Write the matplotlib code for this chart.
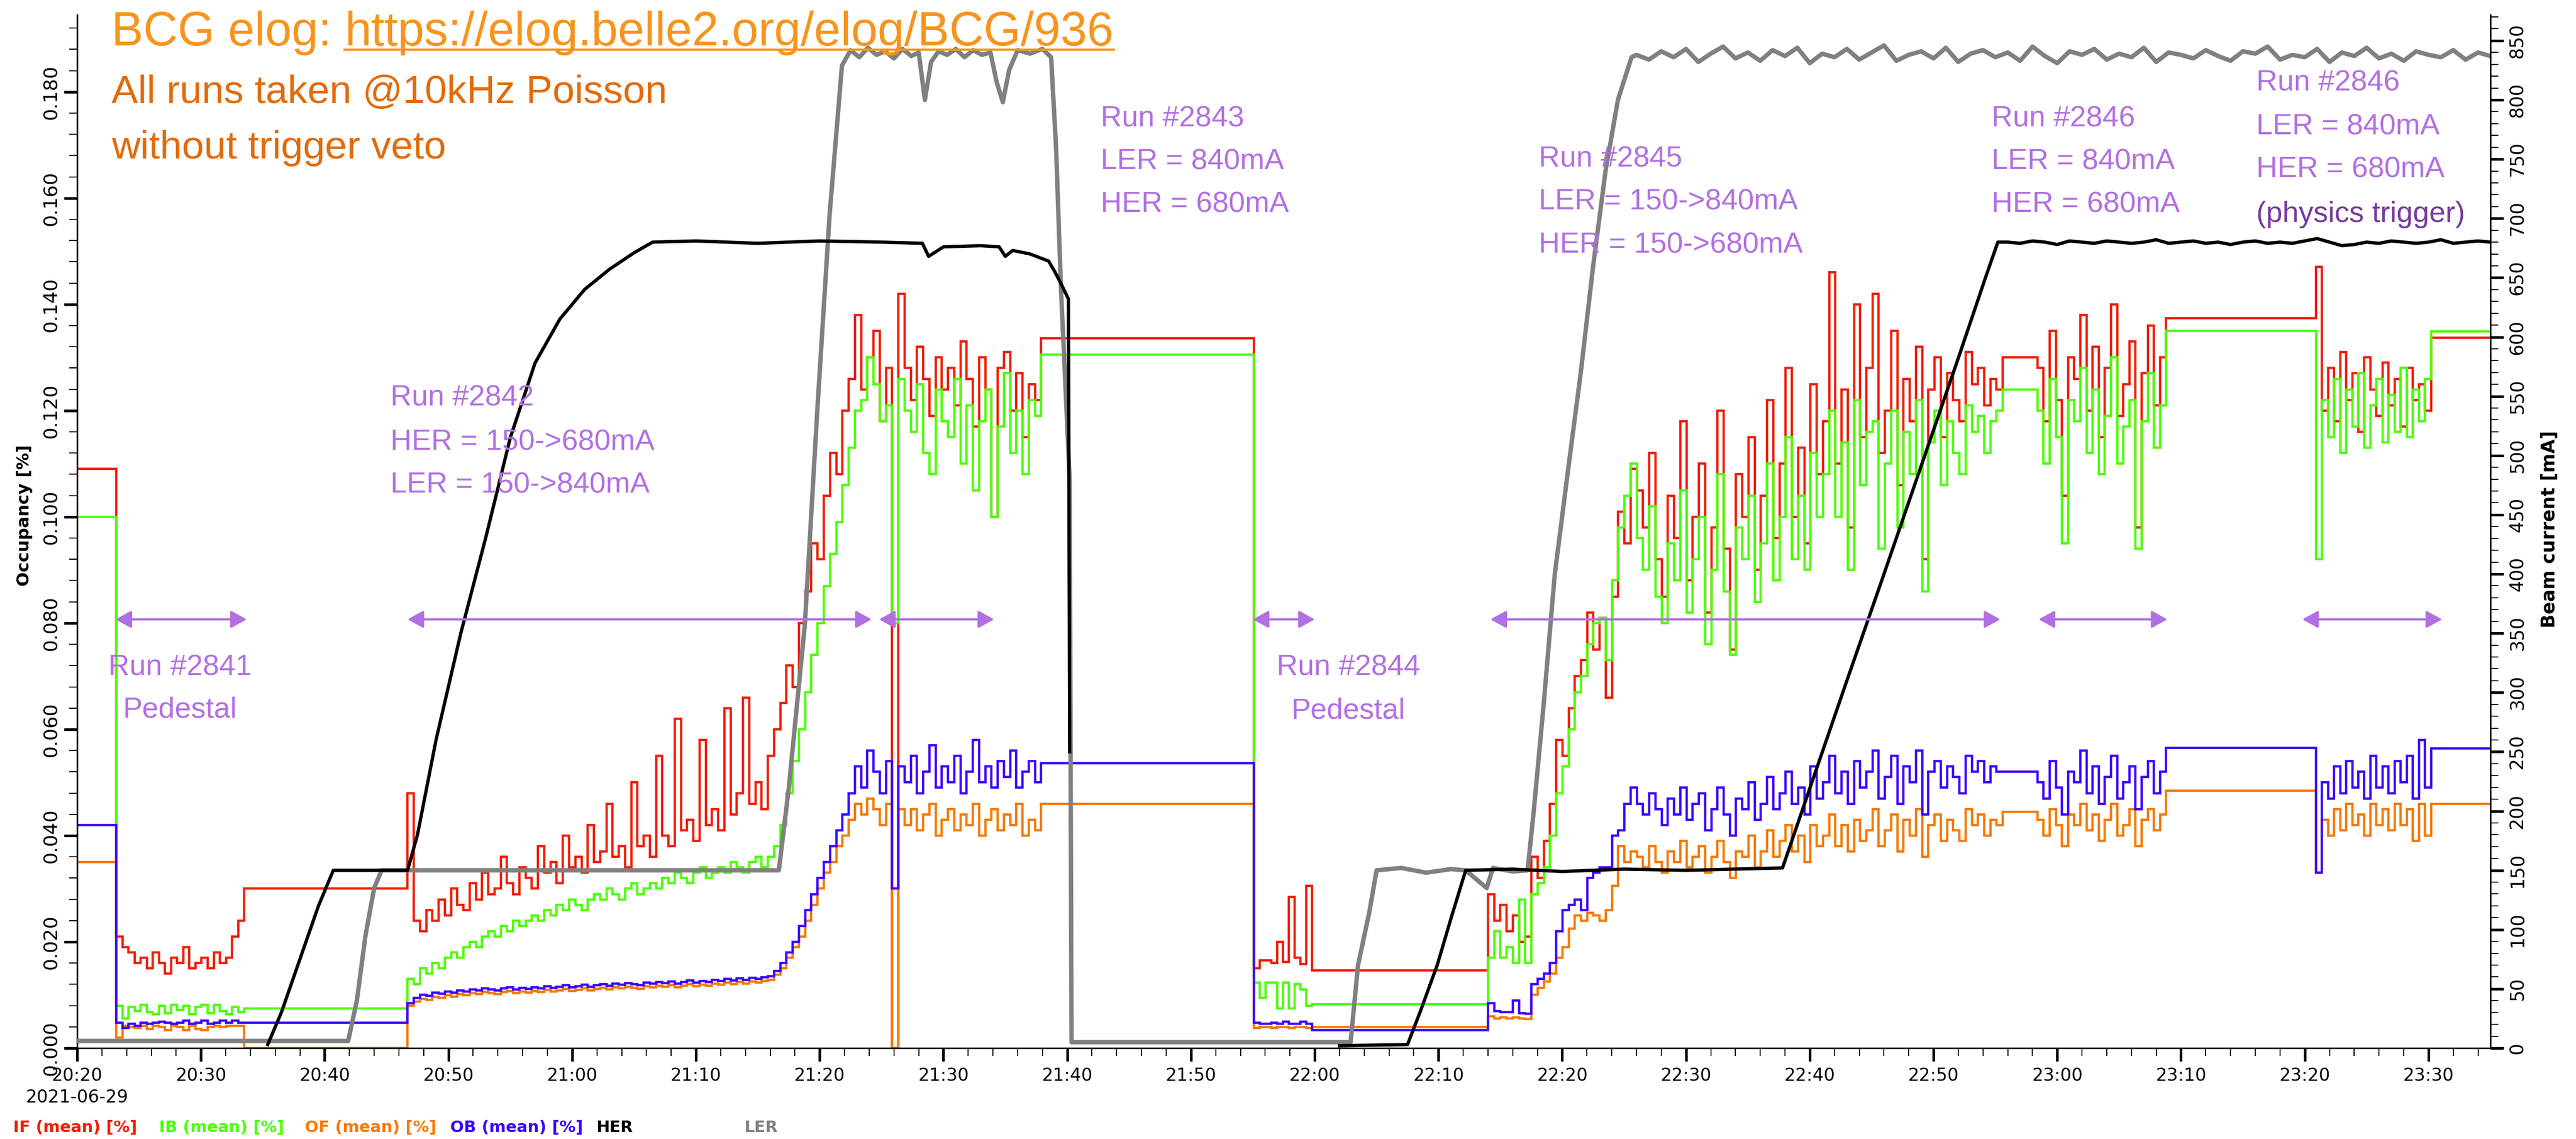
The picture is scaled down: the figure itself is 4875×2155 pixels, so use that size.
import numpy as np
import matplotlib
matplotlib.use("Agg")
import matplotlib.pyplot as plt
from matplotlib.lines import Line2D

# time axis: minutes after 2021-06-29 20:20
t_min, t_max = 0.0, 195.0
occ_max, cur_max = 0.1945, 871.8

# occupancy segments (start, end) in minutes; each run is split in equal bins
seg_bounds = [(0.0, 3.16), (3.16, 13.5), (13.5, 26.7), (26.7, 77.9), (77.9, 95.1),
              (95.1, 99.8), (99.8, 114.0), (114.0, 155.6), (155.6, 158.4),
              (158.4, 168.8), (168.8, 180.9), (180.9, 190.2), (190.2, 195.0)]

IF_vals = [
    [0.109],
    [0.021, 0.019, 0.018, 0.016, 0.017, 0.015, 0.018, 0.016, 0.014, 0.017, 0.016,
     0.019, 0.015, 0.016, 0.017, 0.015, 0.018, 0.016, 0.017, 0.021, 0.024],
    [0.030],
    [0.048, 0.024, 0.022, 0.026, 0.024, 0.028, 0.025, 0.030, 0.027, 0.026,
     0.031, 0.028, 0.033, 0.029, 0.030, 0.036, 0.031, 0.029, 0.034, 0.032,
     0.030, 0.038, 0.033, 0.035, 0.031, 0.040, 0.034, 0.036, 0.033, 0.042,
     0.035, 0.037, 0.046, 0.036, 0.038, 0.034, 0.050, 0.038, 0.040, 0.036,
     0.055, 0.040, 0.038, 0.062, 0.041, 0.043, 0.039, 0.058, 0.042, 0.045,
     0.041, 0.064, 0.044, 0.048, 0.066, 0.046, 0.050, 0.045, 0.055, 0.060,
     0.065, 0.072, 0.068, 0.080, 0.086, 0.095, 0.092, 0.104, 0.112, 0.108,
     0.120, 0.126, 0.138, 0.124, 0.130, 0.135, 0.118, 0.128, 0.000, 0.142,
     0.128, 0.122, 0.132, 0.126, 0.119, 0.130, 0.124, 0.128, 0.121, 0.133,
     0.126, 0.117, 0.130, 0.124, 0.100, 0.128, 0.131, 0.120, 0.127, 0.115, 0.125, 0.122],
    [0.1336],
    [0.0150, 0.0165, 0.0165, 0.0160, 0.0200, 0.0162, 0.0285, 0.0170, 0.0158, 0.0305],
    [0.0146],
    [0.029, 0.024, 0.027, 0.022, 0.025, 0.020, 0.021,
     0.036, 0.032, 0.039, 0.046, 0.058, 0.055, 0.064, 0.070, 0.073, 0.082, 0.075,
     0.081, 0.066, 0.085, 0.101, 0.095, 0.109,
     0.105, 0.098, 0.112, 0.092, 0.085, 0.104, 0.096, 0.118, 0.088, 0.100,
     0.110, 0.082, 0.098, 0.120, 0.094, 0.075, 0.108, 0.100, 0.115, 0.090,
     0.104, 0.122, 0.096, 0.110, 0.128, 0.100, 0.113, 0.095, 0.125, 0.108,
     0.118, 0.146, 0.110, 0.124, 0.098, 0.140, 0.115, 0.128, 0.142, 0.112,
     0.120, 0.135, 0.106, 0.126, 0.118, 0.132, 0.092, 0.124, 0.130, 0.115,
     0.127, 0.122, 0.118, 0.131, 0.125, 0.128, 0.121, 0.126, 0.124],
    [0.130],
    [0.128, 0.118, 0.135, 0.122, 0.104, 0.130, 0.126, 0.138, 0.120, 0.132, 0.115,
     0.128, 0.140, 0.119, 0.125, 0.133, 0.098, 0.127, 0.136, 0.121, 0.130],
    [0.1374],
    [0.147, 0.120, 0.128, 0.118, 0.131, 0.122, 0.127, 0.116, 0.130, 0.124,
     0.119, 0.129, 0.121, 0.126, 0.117, 0.128, 0.122, 0.125, 0.120],
    [0.1337],
]

IB_vals = [
    [0.100],
    [0.0080, 0.0056, 0.0078, 0.0070, 0.0082, 0.0068, 0.0064, 0.0080, 0.0066, 0.0082, 0.0072,
     0.0080, 0.0064, 0.0078, 0.0082, 0.0066, 0.0082, 0.0070, 0.0064, 0.0078, 0.0068],
    [0.0075],
    [0.013, 0.012, 0.015, 0.014, 0.016, 0.015, 0.017, 0.018, 0.017, 0.019,
     0.020, 0.019, 0.021, 0.022, 0.021, 0.023, 0.022, 0.024, 0.023, 0.024,
     0.025, 0.024, 0.026, 0.025, 0.027, 0.026, 0.028, 0.027, 0.026, 0.028,
     0.029, 0.028, 0.030, 0.029, 0.028, 0.030, 0.031, 0.029, 0.030, 0.031,
     0.030, 0.032, 0.031, 0.033, 0.032, 0.031, 0.033, 0.034, 0.032, 0.033,
     0.034, 0.033, 0.035, 0.034, 0.033, 0.035, 0.036, 0.034, 0.036, 0.038,
     0.042, 0.048, 0.054, 0.060, 0.067, 0.074, 0.080, 0.087, 0.093, 0.099,
     0.106, 0.113, 0.120, 0.122, 0.130, 0.125, 0.118, 0.121, 0.080, 0.126,
     0.120, 0.116, 0.125, 0.112, 0.108, 0.124, 0.118, 0.115, 0.126, 0.110,
     0.121, 0.105, 0.118, 0.124, 0.100, 0.117, 0.127, 0.112, 0.120, 0.108, 0.122, 0.119],
    [0.1305],
    [0.0123, 0.0095, 0.0123, 0.0123, 0.0075, 0.0123, 0.0075, 0.0120, 0.0110, 0.0080],
    [0.0083],
    [0.017, 0.022, 0.017, 0.019, 0.016, 0.028, 0.016,
     0.029, 0.031, 0.034, 0.040, 0.048, 0.053, 0.060, 0.067, 0.070, 0.076, 0.080,
     0.081, 0.073, 0.088, 0.098, 0.104, 0.110,
     0.096, 0.090, 0.102, 0.085, 0.080, 0.095, 0.088, 0.105, 0.082, 0.092,
     0.100, 0.076, 0.090, 0.108, 0.086, 0.074, 0.098, 0.092, 0.104, 0.084,
     0.095, 0.110, 0.088, 0.100, 0.115, 0.092, 0.104, 0.090, 0.112, 0.100,
     0.108, 0.120, 0.100, 0.114, 0.090, 0.122, 0.106, 0.116, 0.118, 0.094,
     0.110, 0.120, 0.098, 0.116, 0.108, 0.122, 0.086, 0.114, 0.120, 0.106,
     0.118, 0.112, 0.108, 0.121, 0.116, 0.119, 0.112, 0.118, 0.120],
    [0.124],
    [0.120, 0.110, 0.126, 0.115, 0.095, 0.122, 0.118, 0.128, 0.112, 0.124, 0.108,
     0.119, 0.130, 0.110, 0.117, 0.122, 0.094, 0.118, 0.127, 0.113, 0.121],
    [0.1350],
    [0.092, 0.122, 0.115, 0.126, 0.112, 0.124, 0.117, 0.127, 0.113, 0.121,
     0.126, 0.114, 0.123, 0.116, 0.128, 0.115, 0.124, 0.118, 0.126],
    [0.1349],
]

OF_vals = [
    [0.035],
    [0.0020, 0.0042, 0.0040, 0.0038, 0.0042, 0.0036, 0.0042, 0.0040, 0.0034, 0.0042, 0.0040,
     0.0034, 0.0042, 0.0036, 0.0034, 0.0040, 0.0042, 0.0040, 0.0042, 0.0042, 0.0042],
    [0.0],
    [0.0080, 0.0088, 0.0093, 0.0091, 0.0097, 0.0095, 0.0099, 0.0097, 0.0101, 0.0099,
     0.0103, 0.0101, 0.0105, 0.0103, 0.0101, 0.0105, 0.0107, 0.0103, 0.0106, 0.0104,
     0.0107, 0.0105, 0.0109, 0.0106, 0.0108, 0.0111, 0.0107, 0.0109, 0.0112, 0.0108,
     0.0111, 0.0113, 0.0110, 0.0114, 0.0112, 0.0115, 0.0113, 0.0111, 0.0116, 0.0114,
     0.0117, 0.0115, 0.0118, 0.0114, 0.0117, 0.0120, 0.0116, 0.0119, 0.0117, 0.0121,
     0.0119, 0.0123, 0.0120, 0.0124, 0.0121, 0.0125, 0.0123, 0.0126, 0.0128, 0.0138,
     0.015, 0.017, 0.019, 0.021, 0.024, 0.027, 0.030, 0.033, 0.035, 0.038,
     0.040, 0.043, 0.046, 0.044, 0.047, 0.045, 0.042, 0.046, 0.000, 0.045,
     0.042, 0.045, 0.041, 0.044, 0.046, 0.040, 0.043, 0.045, 0.041, 0.044,
     0.042, 0.046, 0.040, 0.043, 0.045, 0.041, 0.044, 0.042, 0.046, 0.040, 0.043, 0.041],
    [0.046],
    [0.0038, 0.0040, 0.0040, 0.0038, 0.0040, 0.0040, 0.0038, 0.0040, 0.0040, 0.0038],
    [0.0040],
    [0.0060, 0.0056, 0.0058, 0.0056, 0.0058, 0.0056, 0.0055,
     0.010, 0.0113, 0.0125, 0.014, 0.017, 0.019, 0.0225, 0.025, 0.024, 0.0255, 0.025,
     0.024, 0.026, 0.0305, 0.038, 0.035, 0.037,
     0.036, 0.034, 0.038, 0.035, 0.033, 0.037, 0.035, 0.039, 0.034, 0.036,
     0.038, 0.033, 0.036, 0.039, 0.035, 0.032, 0.037, 0.036, 0.040, 0.034,
     0.037, 0.041, 0.036, 0.039, 0.042, 0.037, 0.040, 0.035, 0.042, 0.038,
     0.040, 0.044, 0.038, 0.042, 0.037, 0.043, 0.039, 0.041, 0.045, 0.038,
     0.041, 0.044, 0.037, 0.043, 0.040, 0.045, 0.036, 0.042, 0.044, 0.039,
     0.043, 0.041, 0.039, 0.045, 0.042, 0.044, 0.040, 0.043, 0.042],
    [0.0445],
    [0.043, 0.040, 0.045, 0.042, 0.038, 0.044, 0.042, 0.046, 0.041, 0.044, 0.039,
     0.043, 0.046, 0.040, 0.042, 0.045, 0.038, 0.043, 0.045, 0.041, 0.044],
    [0.0485],
    [0.033, 0.043, 0.040, 0.045, 0.041, 0.046, 0.042, 0.044, 0.040, 0.046,
     0.042, 0.045, 0.041, 0.046, 0.042, 0.045, 0.039, 0.046, 0.040],
    [0.0460],
]

OB_vals = [
    [0.042],
    [0.0048, 0.0038, 0.0046, 0.0042, 0.0048, 0.0046, 0.0048, 0.0050, 0.0048, 0.0046, 0.0048,
     0.0052, 0.0046, 0.0048, 0.0052, 0.0046, 0.0048, 0.0052, 0.0048, 0.0052, 0.0048],
    [0.0048],
    [0.0085, 0.0095, 0.0100, 0.0098, 0.0104, 0.0102, 0.0106, 0.0104, 0.0108, 0.0106,
     0.0110, 0.0108, 0.0112, 0.0110, 0.0108, 0.0112, 0.0114, 0.0110, 0.0113, 0.0111,
     0.0114, 0.0112, 0.0116, 0.0113, 0.0115, 0.0118, 0.0114, 0.0116, 0.0119, 0.0115,
     0.0118, 0.0120, 0.0117, 0.0121, 0.0119, 0.0122, 0.0120, 0.0118, 0.0123, 0.0121,
     0.0124, 0.0122, 0.0125, 0.0121, 0.0124, 0.0127, 0.0123, 0.0126, 0.0124, 0.0128,
     0.0126, 0.0130, 0.0127, 0.0131, 0.0128, 0.0132, 0.0130, 0.0133, 0.0135, 0.0145,
     0.016, 0.018, 0.020, 0.023, 0.026, 0.029, 0.032, 0.035, 0.038, 0.041,
     0.044, 0.048, 0.053, 0.049, 0.056, 0.052, 0.048, 0.054, 0.030, 0.053,
     0.050, 0.055, 0.048, 0.052, 0.057, 0.049, 0.053, 0.050, 0.055, 0.048,
     0.052, 0.058, 0.050, 0.053, 0.049, 0.054, 0.051, 0.056, 0.049, 0.052, 0.054, 0.050],
    [0.0536],
    [0.0048, 0.0046, 0.0046, 0.0048, 0.0046, 0.0050, 0.0046, 0.0046, 0.0050, 0.0046],
    [0.0034],
    [0.0085, 0.0070, 0.0068, 0.0068, 0.0090, 0.0066, 0.0065,
     0.012, 0.013, 0.014, 0.016, 0.022, 0.026, 0.027, 0.028, 0.026, 0.032, 0.033,
     0.034, 0.034, 0.040, 0.041, 0.046, 0.049,
     0.046, 0.044, 0.048, 0.045, 0.042, 0.047, 0.044, 0.049, 0.043, 0.046,
     0.048, 0.041, 0.045, 0.049, 0.044, 0.040, 0.047, 0.045, 0.050, 0.043,
     0.046, 0.051, 0.045, 0.048, 0.052, 0.046, 0.049, 0.044, 0.053, 0.047,
     0.050, 0.055, 0.048, 0.052, 0.046, 0.054, 0.049, 0.052, 0.056, 0.047,
     0.051, 0.055, 0.046, 0.053, 0.050, 0.056, 0.044, 0.052, 0.054, 0.049,
     0.053, 0.051, 0.048, 0.055, 0.052, 0.054, 0.050, 0.053, 0.052],
    [0.052],
    [0.050, 0.047, 0.054, 0.049, 0.044, 0.052, 0.050, 0.056, 0.048, 0.053, 0.046,
     0.051, 0.055, 0.047, 0.050, 0.053, 0.045, 0.051, 0.054, 0.048, 0.052],
    [0.0565],
    [0.033, 0.050, 0.047, 0.053, 0.048, 0.054, 0.049, 0.052, 0.047, 0.055,
     0.049, 0.053, 0.048, 0.054, 0.050, 0.055, 0.047, 0.058, 0.049],
    [0.0564],
]

# beam currents [mA]
her_t = [15.4, 16.5, 17.5, 18.5, 19.5, 20.7,
         26.7, 27.5, 29.0, 31.0, 33.0, 35.0, 37.0, 39.0, 41.0, 43.0, 45.0, 46.5,
         50.0, 55.0, 60.0, 65.0, 68.3, 68.8, 70.0, 73.0, 74.5, 75.0, 75.6, 77.0,
         78.5, 79.0, 79.5, 80.1, 80.2, 80.25,
         102.0, 107.5, 108.5, 109.9, 111.0, 112.2,
         116.0, 120.0, 125.0, 130.0, 137.8, 140.0, 143.0, 146.0, 149.0, 152.0, 154.2, 155.2]
her_v = [3, 30, 60, 90, 120, 150,
         150, 180, 260, 350, 430, 515, 578, 615, 640, 657, 671, 680,
         681, 679, 681, 680, 679, 668, 676, 677, 676, 668, 673, 670,
         664, 655, 645, 632, 250, np.nan,
         2, 3, 30, 70, 109, 150,
         151, 149, 151, 150, 152, 219, 310, 400, 491, 582, 650, 680]
her_plateau_t = list(range(156, 196))
her_plateau_v = [680, 679, 681, 680, 678, 681, 680, 679, 681, 680,
                 679, 680, 682, 679, 680, 681, 679, 680, 678, 680,
                 681, 679, 680, 679, 681, 683, 680, 677, 678, 680,
                 679, 681, 680, 679, 680, 682, 679, 680, 681, 680]

ler_t = [0, 21.9, 22.6, 23.3, 24.0, 24.6, 56.7, 57.5, 58.8, 59.8, 60.8, 61.8,
         62.5, 63.2, 63.9, 64.6, 65.3, 66.0, 66.7, 67.4, 68.0, 68.5, 69.0, 69.6,
         70.3, 71.0, 71.7, 72.4, 73.1, 73.8, 74.3, 74.8, 75.3, 76.0, 77.0, 78.0,
         78.7, 79.1, 79.5, 80.2, 80.35,
         102.9, 103.5, 104.4, 105.0, 107.0, 109.0, 111.0, 112.2, 113.9, 114.4, 116.0, 117.2,
         117.7, 118.5, 119.4, 120.5, 121.5, 122.5, 123.5, 124.5, 125.6]
ler_v = [6, 6, 40, 95, 135, 150, 150, 219, 357, 537, 703, 829,
         842, 836, 844, 838, 841, 835, 843, 837, 840, 800, 832, 841,
         838, 843, 836, 842, 838, 840, 815, 798, 825, 842, 839, 843,
         836, 760, 640, 480, 5,
         5, 70, 114, 150, 152, 148, 151, 150, 135, 152, 149, 150,
         200, 290, 400, 490, 570, 660, 740, 800, 836]
ler_plateau_t = list(range(126, 196))
ler_plateau_v = [838, 834, 841, 836, 843, 832, 839, 845, 835, 840,
                 833, 842, 837, 844, 831, 839, 836, 843, 834, 840,
                 846, 833, 838, 841, 835, 844, 832, 839, 842, 836,
                 840, 833, 845, 837, 831, 841, 838, 843, 834, 839,
                 836, 844, 832, 840, 838, 835, 842, 837, 833, 841,
                 839, 845, 834, 838, 836, 843, 832, 840, 837, 844,
                 835, 839, 833, 841, 838, 836, 842, 834, 840, 837]

# run annotations: left/center time, baselines (occupancy units), lines
ann_blocks = [
    (8.3, [0.0702, 0.0622], ["Run #2841", "Pedestal"], "center"),
    (25.3, [0.1209, 0.1126, 0.1045], ["Run #2842", "HER = 150->680mA", "LER = 150->840mA"], "left"),
    (82.7, [0.1735, 0.1654, 0.1573], ["Run #2843", "LER = 840mA", "HER = 680mA"], "left"),
    (102.7, [0.0702, 0.0620], ["Run #2844", "Pedestal"], "center"),
    (118.1, [0.1659, 0.1578, 0.1497], ["Run #2845", "LER = 150->840mA", "HER = 150->680mA"], "left"),
    (154.7, [0.1735, 0.1654, 0.1573], ["Run #2846", "LER = 840mA", "HER = 680mA"], "left"),
    (176.1, [0.1802, 0.1720, 0.1639, 0.1555],
     ["Run #2846", "LER = 840mA", "HER = 680mA", "(physics trigger)"], "left"),
]
arrow_spans = [(3.1, 13.7), (26.7, 64.2), (64.8, 74.1), (95.0, 100.0),
               (114.2, 155.4), (158.5, 168.9), (179.8, 191.1)]
arrow_level = 0.0807

c_if, c_ib, c_of, c_ob = "#f21d00", "#4cff00", "#f57a00", "#3d00ff"
c_her, c_ler = "black", "#808080"
purple, dark_purple = "#b26fe2", "#773a9c"

W, H = 4875, 2155
fig = plt.figure(figsize=(W / 100, H / 100), dpi=100)
ax = fig.add_axes([146 / W, 1 - 1983 / H, (4713 - 146) / W, (1983 - 28) / H])
ax2 = ax.twinx()


def stairs_data(seg_values):
    edges = [seg_bounds[0][0]]
    vals = []
    for (a, b), v in zip(seg_bounds, seg_values):
        edges.extend(np.linspace(a, b, len(v) + 1)[1:])
        vals.extend(v)
    return np.array(vals), np.array(edges)


for vals, col in [(IF_vals, c_if), (IB_vals, c_ib), (OF_vals, c_of), (OB_vals, c_ob)]:
    v, e = stairs_data(vals)
    ax.stairs(v, e, color=col, lw=3.2, baseline=None)

ax2.plot(ler_t + ler_plateau_t, ler_v + ler_plateau_v, color=c_ler, lw=6)
ax2.plot(her_t + her_plateau_t, her_v + her_plateau_v, color=c_her, lw=4.5)

ax.set_xlim(t_min, t_max)
ax.set_ylim(0, occ_max)
ax2.set_ylim(0, cur_max)

# x ticks
xt = np.arange(0, 191, 10)
ax.set_xticks(xt)
ax.set_xticklabels([f"{(1220 + int(m)) // 60}:{(1220 + int(m)) % 60:02d}" for m in xt])
ax.set_xticks(np.arange(0, 196, 2), minor=True)
ax.tick_params(axis="x", which="major", length=18, width=3.6, labelsize=24, pad=8)
ax.tick_params(axis="x", which="minor", length=11, width=1.4)

yt = np.arange(0, 0.19, 0.02)
ax.set_yticks(yt)
ax.set_yticklabels([f"{y:.3f}" for y in yt], rotation=90, va="center")
ax.set_yticks(np.arange(0, 0.194, 0.004), minor=True)
ax.tick_params(axis="y", which="major", length=18, width=3.6, labelsize=26, pad=6)
ax.tick_params(axis="y", which="minor", length=11, width=1.4)

yt2 = np.arange(0, 851, 50)
ax2.set_yticks(yt2)
ax2.set_yticklabels([str(y) for y in yt2], rotation=90, va="center")
ax2.set_yticks(np.arange(0, 871, 10), minor=True)
ax2.tick_params(axis="y", which="major", length=18, width=3.6, labelsize=25, pad=6)
ax2.tick_params(axis="y", which="minor", length=11, width=1.4)

for a in (ax, ax2):
    a.spines["top"].set_visible(False)
    for s in a.spines.values():
        s.set_linewidth(2.2)
ax.spines["right"].set_visible(False)
ax2.spines["left"].set_visible(False)
ax2.spines["bottom"].set_visible(False)

# run annotations
for x, ys, lines, ha in ann_blocks:
    for y, s in zip(ys, lines):
        col = dark_purple if s.startswith("(") else purple
        ax2.text(x, y, s, transform=ax.transData, ha=ha, va="baseline",
                 fontsize=40, family="Liberation Sans", color=col, zorder=10)
for x0, x1 in arrow_spans:
    ax2.annotate("", xy=(x1, arrow_level), xytext=(x0, arrow_level),
                 xycoords=ax.transData, textcoords=ax.transData,
                 arrowprops=dict(arrowstyle="<|-|>,head_length=1.0,head_width=0.55",
                                 color=purple, lw=3, mutation_scale=18,
                                 shrinkA=0, shrinkB=0), zorder=10)

# header texts
hdr_y = 1 - 86 / H
pre = fig.text(211 / W, hdr_y, "BCG elog: ", fontsize=65, family="Liberation Sans",
               color="#f7941d", va="baseline")
fig.canvas.draw()
r = fig.canvas.get_renderer()
bb = pre.get_window_extent(r)
url = fig.text(bb.x1 / W, hdr_y, "https://elog.belle2.org/elog/BCG/936", fontsize=65,
               family="Liberation Sans", color="#f7941d", va="baseline")
ub = url.get_window_extent(r)
fig.add_artist(Line2D([ub.x0 / W, ub.x1 / W], [hdr_y - 8 / H, hdr_y - 8 / H],
                      transform=fig.transFigure, color="#f7941d", lw=3))
fig.text(211 / W, 1 - 195 / H, "All runs taken @10kHz Poisson", fontsize=54,
         family="Liberation Sans", color="#e26b0a", va="baseline")
fig.text(211 / W, 1 - 300 / H, "without trigger veto", fontsize=54,
         family="Liberation Sans", color="#e26b0a", va="baseline")

# axis titles
fig.text(47 / W, 1 - 975 / H, "Occupancy [%]", rotation=90, fontsize=23,
         fontweight="bold", ha="center", va="center")
fig.text(4825 / W, 1 - 1001 / H, "Beam current [mA]", rotation=90, fontsize=25,
         fontweight="bold", ha="center", va="center")
fig.text(146 / W, 1 - 2077 / H, "2021-06-29", fontsize=24, ha="center", va="center")

# legend row
legend_items = [("IF (mean) [%]", c_if, 25), ("IB (mean) [%]", c_ib, 301),
                ("OF (mean) [%]", c_of, 577), ("OB (mean) [%]", c_ob, 852),
                ("HER", c_her, 1128), ("LER", c_ler, 1408)]
for lbl, col, x in legend_items:
    fig.text(x / W, 1 - 2133 / H, lbl, color=col, fontsize=22, fontweight="bold",
             ha="left", va="center")

fig.savefig("out.png", dpi=100)
